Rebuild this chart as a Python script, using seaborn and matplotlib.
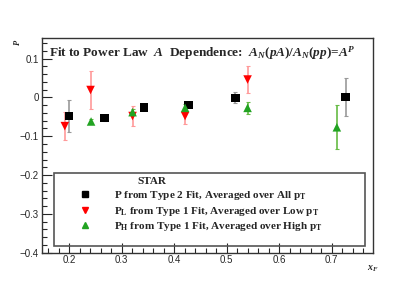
import numpy as np
import pandas as pd
import matplotlib
matplotlib.use('Agg')
import matplotlib.pyplot as plt
import seaborn as sns
from matplotlib.lines import Line2D
from matplotlib.patches import Rectangle
from matplotlib.ticker import MultipleLocator

# ===== data =====
# P, type 2 fit, all pT (black squares)
xf_all = [0.200, 0.268, 0.343, 0.428, 0.517, 0.727]
p_all = [-0.048, -0.053, -0.026, -0.020, -0.001, 0.001]
p_all_err = [0.042, 0.008, 0.004, 0.005, 0.014, 0.048]

# P_L, type 1 fit, low pT (red down triangles)
xf_low = [0.192, 0.241, 0.321, 0.421, 0.540]
p_low = [-0.074, 0.019, -0.048, -0.048, 0.046]
p_low_err = [0.037, 0.050, 0.026, 0.020, 0.034]

# P_H, type 1 fit, high pT (green up triangles)
xf_high = [0.242, 0.321, 0.421, 0.540, 0.710]
p_high = [-0.062, -0.038, -0.027, -0.027, -0.077]
p_high_err = [0.006, 0.008, 0.010, 0.015, 0.057]

labels = ['P from Type 2 Fit, Averaged over All $\\mathregular{p_T}$',
          '$\\mathregular{P_L}$ from Type 1 Fit, Averaged over Low $\\mathregular{p_T}$',
          '$\\mathregular{P_H}$ from Type 1 Fit, Averaged over High $\\mathregular{p_T}$']
colors = ['black', '#ff0000', '#22a322']
err_colors = ['#999999', '#ff9999', '#66bb44']
markers = ['s', 'v', '^']

df = pd.concat([
    pd.DataFrame({'xF': xf_all, 'P': p_all, 'err': p_all_err, 'set': labels[0]}),
    pd.DataFrame({'xF': xf_low, 'P': p_low, 'err': p_low_err, 'set': labels[1]}),
    pd.DataFrame({'xF': xf_high, 'P': p_high, 'err': p_high_err, 'set': labels[2]}),
])

sns.set_style('ticks')
plt.rcParams['font.family'] = ['Liberation Sans', 'DejaVu Sans']
plt.rcParams['mathtext.fontset'] = 'custom'
plt.rcParams['mathtext.rm'] = 'Liberation Serif:bold'
plt.rcParams['mathtext.it'] = 'Liberation Serif:italic:bold'

fig = plt.figure(figsize=(4.15, 2.81), dpi=100)
ax = fig.add_axes([0.1005, 0.1007, 0.7985, 0.7641])

# error bars first, then markers on top
for lab, ec in zip(labels, err_colors):
    sub = df[df['set'] == lab]
    ax.errorbar(sub['xF'], sub['P'], yerr=sub['err'], fmt='none',
                ecolor=ec, elinewidth=1.2, capsize=1.5, capthick=0.8, zorder=2)

sns.scatterplot(data=df, x='xF', y='P', hue='set', style='set',
                palette=dict(zip(labels, colors)),
                markers=dict(zip(labels, markers)),
                s=38, edgecolor='none', legend=False, ax=ax, zorder=3)

ax.set_xlim(0.148, 0.779)
ax.set_ylim(-0.4, 0.153)
ax.xaxis.set_major_locator(MultipleLocator(0.1))
ax.xaxis.set_minor_locator(MultipleLocator(0.02))
ax.yaxis.set_major_locator(MultipleLocator(0.1))
ax.yaxis.set_minor_locator(MultipleLocator(0.02))
ax.tick_params(which='both', direction='in', top=False, right=False,
               labelsize=7, pad=2)
ax.tick_params(which='major', length=7, width=0.8)
ax.tick_params(which='minor', length=3.5, width=0.8)
ax.yaxis.set_major_formatter(plt.FuncFormatter(lambda v, p: '0' if abs(v) < 1e-9 else f'{v:.1f}'.replace('-', '\u2212')))
ax.xaxis.set_major_formatter(plt.FuncFormatter(lambda v, p: f'{v:.1f}'))
for s in ax.spines.values():
    s.set_linewidth(1.0)
    s.set_color('#333333')

ax.set_xlabel('')
ax.set_ylabel('')
fig.text(0.884, 0.045, '$x_F$', fontsize=7, ha='left', va='center')
fig.text(0.04, 0.85, '$P$', fontsize=6, ha='center', va='center', rotation=90)

ax.text(0.022, 0.93,
        'Fit to Power Law  $A$  Dependence:  $A_N(pA)/A_N(pp)$=$A^P$',
        transform=ax.transAxes, fontsize=9.5, fontweight='bold',
        family='Liberation Serif', ha='left', va='center')

# legend box
ax.add_patch(Rectangle((0.037, 0.03), 0.94, 0.34, transform=ax.transAxes,
                       fill=False, edgecolor='#555555', linewidth=1.2, zorder=4))
ax.text(0.29, 0.33, 'STAR', transform=ax.transAxes, fontsize=8,
        fontweight='bold', family='Liberation Serif', ha='left', va='center')
handles = [Line2D([], [], linestyle='none', marker=m, color=c, markersize=5)
           for m, c in zip(markers, colors)]
ax.legend(handles, labels, loc='upper left', bbox_to_anchor=(0.114, 0.295),
          frameon=False, prop={'family': 'Liberation Serif', 'weight': 'bold', 'size': 8},
          handletextpad=2.1, labelspacing=0.22, handlelength=1.0,
          borderpad=0, borderaxespad=0)

plt.savefig('out.png', dpi=100)
